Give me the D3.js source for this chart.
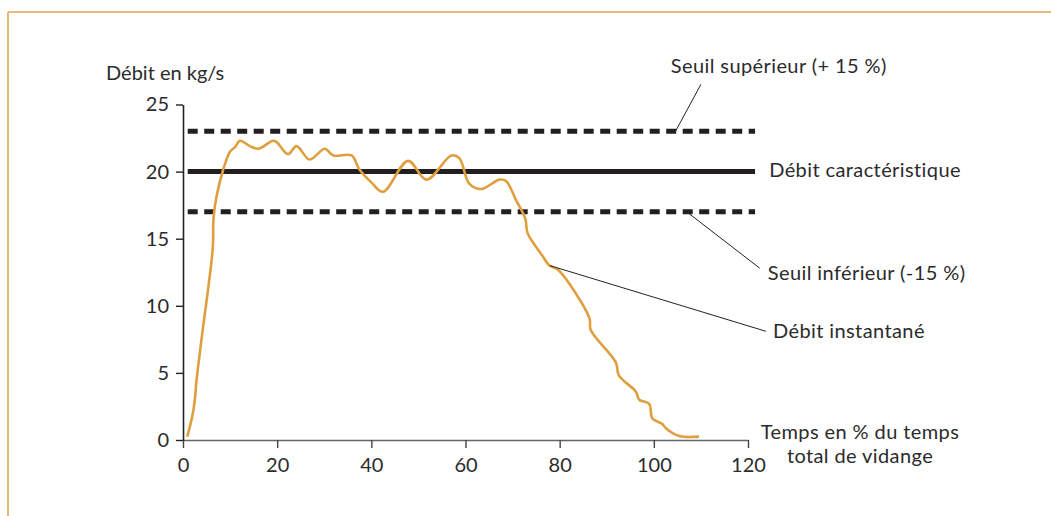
<!DOCTYPE html>
<html lang="fr">
<head>
<meta charset="UTF-8">
<title>Débit de vidange</title>
<script src="https://d3js.org/d3.v7.min.js"></script>
<style>
  body { margin: 0; background: #fff; overflow: hidden; }
  text { font-family: Lato, "Open Sans", sans-serif; fill: #2b2b2b; }
  .note { font-size: 20px; letter-spacing: 0.4px; }
</style>
</head>
<body>
<script>
// Data
const timePct = [0.9, 1.6, 2.2, 2.6, 2.8, 4.0, 6.3, 6.5, 7.1, 8.5, 10.0, 11.0, 12.1, 14.2, 16.0, 19.1, 19.9,
  22.3, 24.1, 26.9, 30.1, 31.9, 35.8, 37.4, 40.0, 42.5, 47.8, 51.7, 57.0, 58.7, 60.8, 63.3, 67.2, 68.6,
  70.7, 72.7, 73.2, 76.4, 77.8, 79.6, 86.3, 86.6, 91.9, 92.6, 96.2, 96.9, 99.0, 99.7, 101.8, 102.5, 105.4, 109.6];
const flow = [0.25, 1.2, 2.2, 3.3, 4.2, 7.7, 14.2, 16.6, 18.1, 20.1, 21.5, 21.8, 22.3, 21.9, 21.7, 22.3, 22.2,
  21.3, 21.9, 20.9, 21.7, 21.2, 21.2, 20.2, 19.2, 18.5, 20.8, 19.4, 21.2, 21.0, 19.1, 18.7, 19.4, 19.3,
  17.9, 16.5, 15.4, 13.7, 13.0, 12.7, 9.1, 8.2, 5.8, 4.8, 3.6, 3.0, 2.7, 1.6, 1.2, 0.9, 0.3, 0.25];

const xTicks = [0, 20, 40, 60, 80, 100, 120];
const yTicks = [0, 5, 10, 15, 20, 25];

// reference lines: characteristic flow and +/- 15 % thresholds
const refNames = ["Débit caractéristique", "Seuil supérieur (+ 15 %)", "Seuil inférieur (-15 %)"];
const refValues = [20, 23, 17];
const refDashed = [false, true, true];

// annotation leaders: point on the mark -> label anchor (data units)
const noteLabels = ["Seuil supérieur (+ 15 %)", "Seuil inférieur (-15 %)", "Débit instantané"];
const noteFrom = [[104.6, 23], [107, 17], [77.9, 13.0]];
const noteTo = [[110, 26.5], [122.5, 12.8], [123.8, 8.1]];

const width = 1051, height = 516;

const svg = d3.select("body").append("svg")
  .attr("width", width)
  .attr("height", height);

// frame: orange top and left rules
svg.append("line").attr("x1", 8).attr("x2", width).attr("y1", 12).attr("y2", 12)
  .attr("stroke", "#e3a54a").attr("stroke-width", 1.5);
svg.append("line").attr("x1", 8).attr("x2", 8).attr("y1", 12).attr("y2", height)
  .attr("stroke", "#e3a54a").attr("stroke-width", 1.5);

const x = d3.scaleLinear().domain([0, 120]).range([183, 748]);
const y = d3.scaleLinear().domain([0, 25]).range([440, 104.5]);

// axes
const xAxis = svg.append("g")
  .attr("transform", `translate(0,${y(0)})`)
  .call(d3.axisBottom(x).tickValues(xTicks).tickSize(8).tickPadding(10).tickSizeOuter(0));
xAxis.select(".domain").attr("stroke", "#666").attr("stroke-width", 1.6);
xAxis.selectAll(".tick line").attr("stroke", "#444").attr("stroke-width", 1.4);
xAxis.selectAll("text").style("font-size", "20px").style("font-family", "Lato, sans-serif").attr("fill", "#2b2b2b");

const yAxis = svg.append("g")
  .attr("transform", `translate(${x(0)},0)`)
  .call(d3.axisLeft(y).tickValues(yTicks).tickSize(7).tickPadding(7).tickSizeOuter(0));
yAxis.select(".domain").attr("stroke", "#222").attr("stroke-width", 1.6);
yAxis.selectAll(".tick line").attr("stroke", "#222").attr("stroke-width", 1.4);
yAxis.selectAll("text").style("font-size", "20px").style("font-family", "Lato, sans-serif").attr("fill", "#2b2b2b");

// axis titles
svg.append("text")
  .attr("x", 106).attr("y", 80)
  .style("font-size", "20px")
  .text("Débit en kg/s");

const xTitle = svg.append("text")
  .attr("class", "note")
  .attr("x", 860).attr("y", 439)
  .attr("text-anchor", "middle");
xTitle.append("tspan").attr("x", 860).text("Temps en % du temps");
xTitle.append("tspan").attr("x", 860).attr("dy", 24).text("total de vidange");

// reference lines
refValues.forEach((v, i) => {
  svg.append("line")
    .attr("x1", x(1)).attr("x2", x(121.5))
    .attr("y1", y(v)).attr("y2", y(v))
    .attr("stroke", "#231f20")
    .attr("stroke-width", 5)
    .attr("stroke-dasharray", refDashed[i] ? "10,6.5" : null);
});

// label for the characteristic flow line
svg.append("text")
  .attr("class", "note")
  .attr("x", x(124.5)).attr("y", y(refValues[0]))
  .attr("dominant-baseline", "middle")
  .text(refNames[0]);

// instantaneous flow curve
const line = d3.line()
  .x((d, i) => x(timePct[i]))
  .y((d, i) => y(flow[i]))
  .curve(d3.curveCatmullRom.alpha(0.5));

svg.append("path")
  .datum(flow)
  .attr("d", line)
  .attr("fill", "none")
  .attr("stroke", "#df9f3f")
  .attr("stroke-width", 2.6)
  .attr("stroke-linejoin", "round");

// annotation leaders and labels
noteLabels.forEach((label, i) => {
  svg.append("line")
    .attr("x1", x(noteFrom[i][0])).attr("y1", y(noteFrom[i][1]))
    .attr("x2", x(noteTo[i][0])).attr("y2", y(noteTo[i][1]))
    .attr("stroke", "#222").attr("stroke-width", 1);
});

svg.append("text").attr("class", "note").attr("x", x(103.6)).attr("y", 73).text(noteLabels[0]);
svg.append("text").attr("class", "note").attr("x", x(124.2)).attr("y", 280).text(noteLabels[1]);
svg.append("text").attr("class", "note").attr("x", x(125.3)).attr("y", 338).text(noteLabels[2]);
</script>
</body>
</html>
